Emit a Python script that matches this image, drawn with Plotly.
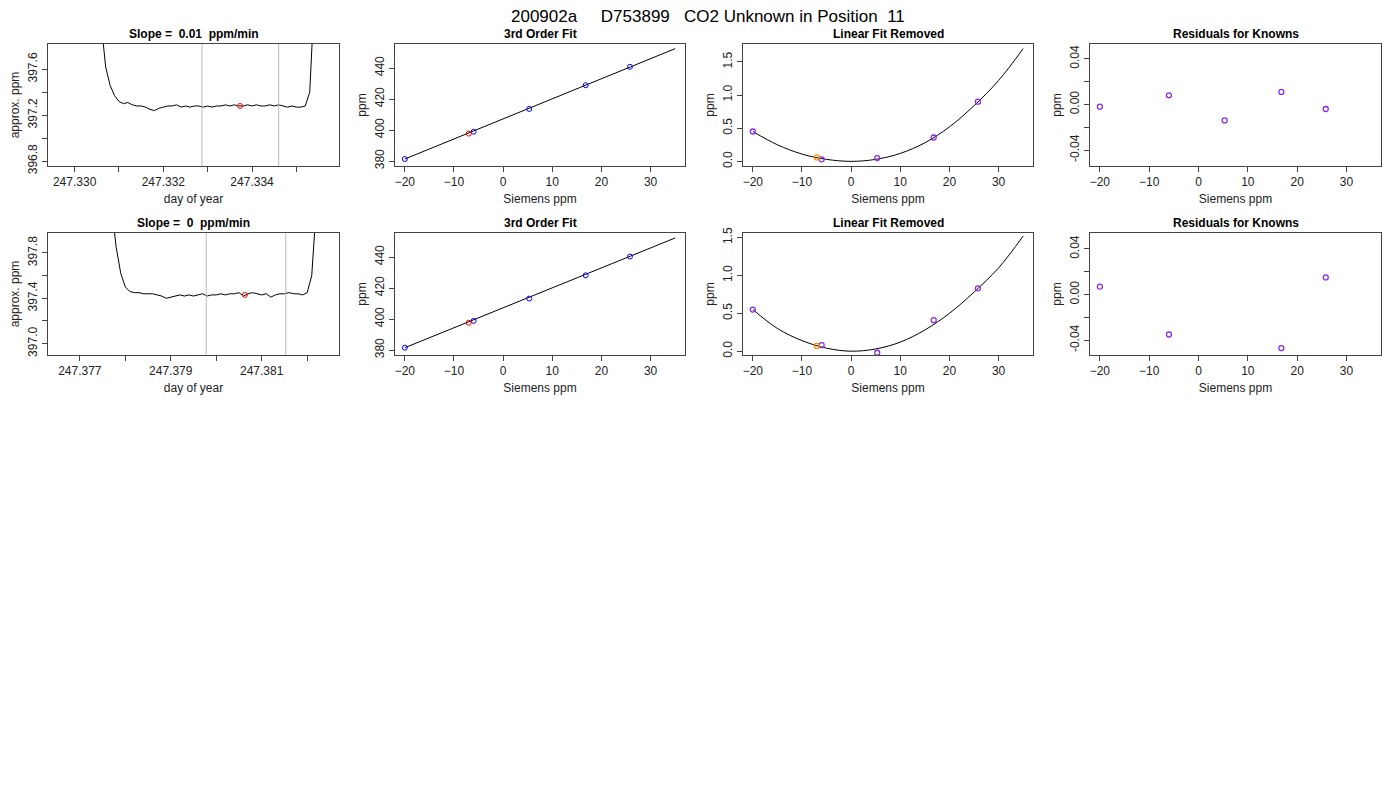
import numpy as np
import plotly.graph_objects as go

W, H = 1400, 800
FONT = "Liberation Sans, Arial, sans-serif"

# time series (day of year grid, approx ppm)
ts1_y = [398.0, 397.62, 397.46, 397.37, 397.32, 397.30, 397.31, 397.29, 397.28, 397.28,
         397.27, 397.25, 397.24, 397.26, 397.27, 397.28, 397.28, 397.29, 397.27, 397.28,
         397.27, 397.28, 397.28, 397.27, 397.28, 397.27, 397.28, 397.28, 397.29, 397.28,
         397.29, 397.28, 397.28, 397.29, 397.28, 397.29, 397.28, 397.28, 397.29, 397.28,
         397.29, 397.28, 397.27, 397.28, 397.27, 397.27, 397.28, 397.40, 398.2]
ts1_x = 247.3306 + 0.0001 * np.arange(len(ts1_y))
ts2_y = [398.2, 397.85, 397.62, 397.50, 397.46, 397.45, 397.45, 397.44, 397.44, 397.44,
         397.43, 397.42, 397.40, 397.41, 397.42, 397.43, 397.42, 397.43, 397.42, 397.43,
         397.44, 397.42, 397.43, 397.43, 397.44, 397.43, 397.44, 397.44, 397.45, 397.42,
         397.44, 397.45, 397.44, 397.43, 397.44, 397.41, 397.43, 397.44, 397.44, 397.45,
         397.44, 397.44, 397.43, 397.45, 397.60, 398.2]
ts2_x = 247.3777 + 0.0001 * np.arange(len(ts2_y))

known_x = [-20, -6, 5.3, 16.8, 25.8]
unk_x = -7

rows = [
    dict(ts_x=ts1_x, ts_y=ts1_y, ts_range=[247.3294, 247.33596], ts_yr=[396.757, 397.82],
         ts_ticks=[247.330, 247.331, 247.332, 247.333, 247.334, 247.335],
         ts_text=["247.330", "", "247.332", "", "247.334", ""],
         ts_yticks=[396.8, 397.0, 397.2, 397.4, 397.6], ts_ytext=["396.8", "", "397.2", "", "397.6"],
         vl=[247.33287, 247.3346], red=(247.33373, 397.28), slope="Slope =  0.01  ppm/min",
         fit_y=[381.3, 398.9, 413.6, 428.9, 440.8], fit_unk=397.7,
         fit_line_x=[-20, 35], fit_line_y=[381.3, 452.5],
         lin_y=[0.45, 0.03, 0.05, 0.36, 0.90], lin_unk=0.06, lin_yr=[-0.07, 1.77],
         lin_cx=[-20, -15, -10, -5, 0, 5, 10, 15, 20, 25, 30, 35],
         lin_cy=[0.45, 0.25, 0.11, 0.03, 0.0, 0.03, 0.12, 0.28, 0.52, 0.84, 1.22, 1.70],
         res_y=[-0.002, 0.008, -0.014, 0.011, -0.004], res_yr=[-0.054, 0.053]),
    dict(ts_x=ts2_x, ts_y=ts2_y, ts_range=[247.3763, 247.3827], ts_yr=[396.90, 397.976],
         ts_ticks=[247.377, 247.378, 247.379, 247.380, 247.381, 247.382],
         ts_text=["247.377", "", "247.379", "", "247.381", ""],
         ts_yticks=[397.0, 397.2, 397.4, 397.6, 397.8], ts_ytext=["397.0", "", "397.4", "", "397.8"],
         vl=[247.37978, 247.38153], red=(247.38063, 397.43), slope="Slope =  0  ppm/min",
         fit_y=[381.5, 398.8, 413.2, 428.2, 440.3], fit_unk=397.6,
         fit_line_x=[-20, 35], fit_line_y=[381.5, 452.3],
         lin_y=[0.55, 0.08, -0.02, 0.41, 0.83], lin_unk=0.07, lin_yr=[-0.05, 1.56],
         lin_cx=[-20, -15, -10, -5, 0, 5, 10, 15, 20, 25, 30, 35],
         lin_cy=[0.55, 0.30, 0.14, 0.04, 0.0, 0.03, 0.12, 0.28, 0.50, 0.78, 1.10, 1.52],
         res_y=[0.007, -0.035, None, -0.047, 0.015], res_yr=[-0.053, 0.054]),
]

# panel boxes in page pixels (page is offset a few px when shown)
cols_px = [(40, 331), (387, 677), (735, 1025), (1082, 1373)]
rows_px = [(36, 158), (225, 347)]

fig = go.Figure()
layout = {}
ann = []


def axis_style(**kw):
    d = dict(showline=True, mirror=True, linecolor="#444", linewidth=1, ticks="outside",
             ticklen=5, tickcolor="#444", showgrid=False, zeroline=False, automargin=False,
             tickfont=dict(size=12, family=FONT, color="#222"))
    d.update(kw)
    return d


purple = dict(symbol="circle-open", color="#8a2be2", size=5, line=dict(width=1.3))

n = 0
for r, row in enumerate(rows):
    y0, y1 = rows_px[r]
    for c in range(4):
        n += 1
        x0, x1 = cols_px[c]
        xa = "x" if n == 1 else f"x{n}"
        ya = "y" if n == 1 else f"y{n}"
        xdom = [x0 / W, x1 / W]
        ydom = [1 - y1 / H, 1 - y0 / H]
        if c == 0:
            title, xt, yt = row["slope"], "day of year", "approx. ppm"
            fig.add_trace(go.Scatter(x=row["ts_x"], y=row["ts_y"], mode="lines",
                                     line=dict(color="black", width=1), xaxis=xa, yaxis=ya))
            for v in row["vl"]:
                fig.add_trace(go.Scatter(x=[v, v], y=row["ts_yr"], mode="lines",
                                         line=dict(color="#bbbbbb", width=1), xaxis=xa, yaxis=ya))
            fig.add_trace(go.Scatter(x=[row["red"][0]], y=[row["red"][1]], mode="markers",
                                     marker=dict(symbol="circle-open", color="red", size=5),
                                     xaxis=xa, yaxis=ya))
            xax = axis_style(range=row["ts_range"], tickvals=row["ts_ticks"], ticktext=row["ts_text"])
            yax = axis_style(range=row["ts_yr"], tickvals=row["ts_yticks"], ticktext=row["ts_ytext"])
        elif c == 1:
            title, xt, yt = "3rd Order Fit", "Siemens ppm", "ppm"
            fig.add_trace(go.Scatter(x=row["fit_line_x"], y=row["fit_line_y"], mode="lines",
                                     line=dict(color="black", width=1), xaxis=xa, yaxis=ya))
            fig.add_trace(go.Scatter(x=known_x, y=row["fit_y"], mode="markers",
                                     marker=dict(symbol="circle-open", color="blue", size=5),
                                     xaxis=xa, yaxis=ya))
            fig.add_trace(go.Scatter(x=[unk_x], y=[row["fit_unk"]], mode="markers",
                                     marker=dict(symbol="circle-open", color="red", size=5),
                                     xaxis=xa, yaxis=ya))
            xax = axis_style(range=[-22, 37], tickvals=[-20, -10, 0, 10, 20, 30])
            yax = axis_style(range=[376.8, 455.5], tickvals=[380, 400, 420, 440])
        elif c == 2:
            title, xt, yt = "Linear Fit Removed", "Siemens ppm", "ppm"
            fig.add_trace(go.Scatter(x=row["lin_cx"], y=row["lin_cy"], mode="lines",
                                     line=dict(color="black", width=1, shape="spline"),
                                     xaxis=xa, yaxis=ya))
            fig.add_trace(go.Scatter(x=known_x, y=row["lin_y"], mode="markers", marker=purple,
                                     xaxis=xa, yaxis=ya))
            fig.add_trace(go.Scatter(x=[unk_x], y=[row["lin_unk"]], mode="markers",
                                     marker=dict(purple, color="#ff8c00"),
                                     xaxis=xa, yaxis=ya))
            xax = axis_style(range=[-22, 37], tickvals=[-20, -10, 0, 10, 20, 30])
            yax = axis_style(range=row["lin_yr"], tickvals=[0, 0.5, 1.0, 1.5],
                             ticktext=["0.0", "0.5", "1.0", "1.5"])
        else:
            title, xt, yt = "Residuals for Knowns", "Siemens ppm", "ppm"
            fig.add_trace(go.Scatter(x=known_x, y=row["res_y"], mode="markers", marker=purple,
                                     xaxis=xa, yaxis=ya))
            xax = axis_style(range=[-22, 37], tickvals=[-20, -10, 0, 10, 20, 30])
            yax = axis_style(range=row["res_yr"], tickvals=[-0.04, -0.02, 0, 0.02, 0.04],
                             ticktext=["-0.04", "", "0.00", "", "0.04"])
        yax["tickangle"] = -90
        xax.update(domain=xdom, anchor=ya)
        yax.update(domain=ydom, anchor=xa)
        xax["title"] = dict(text=xt, font=dict(size=12, family=FONT, color="#222"), standoff=6)
        yax["title"] = dict(text=yt, font=dict(size=12, family=FONT, color="#222"), standoff=4)
        layout["xaxis" if n == 1 else f"xaxis{n}"] = xax
        layout["yaxis" if n == 1 else f"yaxis{n}"] = yax
        ann.append(dict(text=f"<b>{title}</b>", x=(xdom[0] + xdom[1]) / 2, y=ydom[1],
                        xref="paper", yref="paper", xanchor="center", yanchor="bottom",
                        yshift=1, showarrow=False, font=dict(size=12, family=FONT, color="black")))

ann.append(dict(text="200902a     D753899   CO2 Unknown in Position  11", x=0.5, y=1.0,
                xref="paper", yref="paper", xanchor="center", yanchor="top", showarrow=False,
                yshift=2, borderpad=0,
                font=dict(size=17, family=FONT, color="black")))

fig.update_layout(**layout)
fig.update_layout(annotations=ann, width=W, height=H, showlegend=False,
                  plot_bgcolor="white", paper_bgcolor="white",
                  margin={"r": 0, "t": 0, "l": 0, "b": 0})
fig.write_html("out.html")
